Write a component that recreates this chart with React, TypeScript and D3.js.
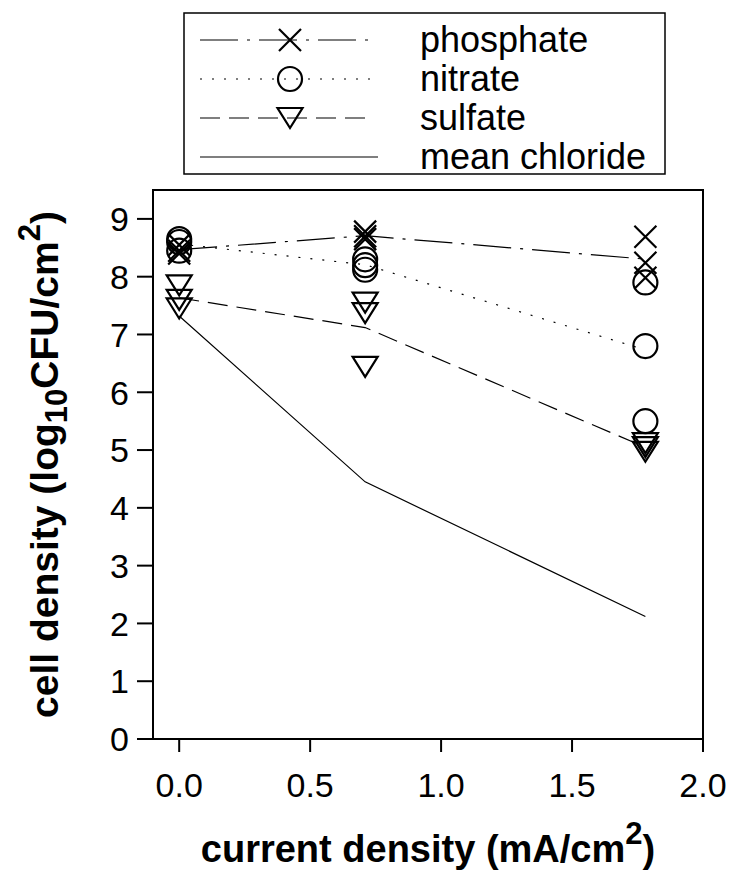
import React from "react";
import * as d3 from "d3";

// ---- data ----
const xLevels = [0, 0.71, 1.78];
const phosphate = [
  [8.55, 8.45, 8.4],
  [8.78, 8.7, 8.65],
  [8.69, 8.24, 7.98],
];
const nitrate = [
  [8.65, 8.6, 8.45],
  [8.3, 8.2, 8.12],
  [7.9, 6.8, 5.5],
];
const sulfate = [
  [7.85, 7.6, 7.45],
  [7.55, 7.37, 6.44],
  [5.12, 5.05, 4.97],
];
const meanChloride = [7.32, 4.45, 2.12];
const xTicks = [0, 0.5, 1.0, 1.5, 2.0];
const yTicks = [0, 1, 2, 3, 4, 5, 6, 7, 8, 9];
const legendLabels = ["phosphate", "nitrate", "sulfate", "mean chloride"];

const W = 738;
const H = 882;
const FONT = "Arial, 'Liberation Sans', Helvetica, sans-serif";

const x = d3.scaleLinear().domain([-0.1, 2.0]).range([153, 703]);
const y = d3.scaleLinear().domain([0, 9.5]).range([739, 190]);

type Shape = "x" | "o" | "v" | "none";

function Marker({ cx, cy, shape }: { cx: number; cy: number; shape: Shape }) {
  const sw = 2.2;
  if (shape === "x") {
    const s = 11;
    return (
      <path
        d={`M${cx - s},${cy - s}L${cx + s},${cy + s}M${cx - s},${cy + s}L${cx + s},${cy - s}`}
        stroke="#000"
        strokeWidth={sw}
        fill="none"
      />
    );
  }
  if (shape === "o") {
    return <circle cx={cx} cy={cy} r={12} stroke="#000" strokeWidth={sw} fill="none" />;
  }
  if (shape === "v") {
    const hw = 12.5;
    const hh = 10;
    return (
      <path
        d={`M${cx - hw},${cy - hh}L${cx + hw},${cy - hh}L${cx},${cy + hh}Z`}
        stroke="#000"
        strokeWidth={sw}
        fill="none"
        strokeLinejoin="miter"
      />
    );
  }
  return null;
}

const series = [
  { label: legendLabels[0], reps: phosphate, shape: "x" as Shape, dash: "38,9,3,9" },
  { label: legendLabels[1], reps: nitrate, shape: "o" as Shape, dash: "2,10" },
  { label: legendLabels[2], reps: sulfate, shape: "v" as Shape, dash: "20,9" },
];

export default function App() {
  const line = d3
    .line<[number, number]>()
    .x((d) => x(d[0]))
    .y((d) => y(d[1]));

  const meanLines = series.map((s) =>
    line(xLevels.map((xv, i) => [xv, d3.mean(s.reps[i]) as number]))
  );
  const chlorideLine = line(xLevels.map((xv, i) => [xv, meanChloride[i]]));

  const legendRows = [
    { label: legendLabels[0], shape: "x" as Shape, dash: "38,9,3,9" },
    { label: legendLabels[1], shape: "o" as Shape, dash: "2,10" },
    { label: legendLabels[2], shape: "v" as Shape, dash: "20,9" },
    { label: legendLabels[3], shape: "none" as Shape, dash: "none" },
  ];

  return (
    <svg
      width={W}
      height={H}
      style={{ position: "absolute", left: 0, top: 0, background: "#fff" }}
      fontFamily={FONT}
    >
      <rect x={0} y={0} width={W} height={H} fill="#fff" />

      {/* mean lines */}
      {meanLines.map((d, i) => (
        <path
          key={i}
          d={d || ""}
          fill="none"
          stroke="#000"
          strokeWidth={1.2}
          strokeDasharray={series[i].dash}
        />
      ))}
      <path d={chlorideLine || ""} fill="none" stroke="#000" strokeWidth={1.2} />

      {/* markers */}
      {series.map((s, si) =>
        s.reps.map((vals, i) =>
          vals.map((v, j) => (
            <Marker key={`${si}-${i}-${j}`} cx={x(xLevels[i])} cy={y(v)} shape={s.shape} />
          ))
        )
      )}

      {/* frame */}
      <rect x={x(-0.1)} y={y(9.5)} width={x(2.0) - x(-0.1)} height={y(0) - y(9.5)} fill="none" stroke="#000" strokeWidth={2} />

      {/* y ticks */}
      {yTicks.map((t) => (
        <g key={`y${t}`}>
          <line x1={137} x2={x(-0.1)} y1={y(t)} y2={y(t)} stroke="#000" strokeWidth={2} />
          <text x={129} y={y(t)} dy="0.36em" textAnchor="end" fontSize={34}>
            {t}
          </text>
        </g>
      ))}

      {/* x ticks */}
      {xTicks.map((t) => (
        <g key={`x${t}`}>
          <line x1={x(t)} x2={x(t)} y1={y(0)} y2={752} stroke="#000" strokeWidth={2} />
          <text x={x(t)} y={797} textAnchor="middle" fontSize={34}>
            {d3.format(".1f")(t)}
          </text>
        </g>
      ))}

      {/* x title */}
      <text x={(x(-0.1) + x(2.0)) / 2} y={862} textAnchor="middle" fontSize={38} fontWeight="bold">
        current density (mA/cm
        <tspan dy={-18} fontSize={31}>2</tspan>
        <tspan dy={18}>)</tspan>
      </text>

      {/* y title */}
      <text
        transform={`translate(58,${(y(0) + y(9.5)) / 2}) rotate(-90)`}
        textAnchor="middle"
        fontSize={39}
        fontWeight="bold"
      >
        cell density (log
        <tspan dy={9} fontSize={31}>10</tspan>
        <tspan dy={-9}>CFU/cm</tspan>
        <tspan dy={-18} fontSize={31}>2</tspan>
        <tspan dy={18}>)</tspan>
      </text>

      {/* legend */}
      <rect x={184} y={13} width={481} height={161} fill="#fff" stroke="#000" strokeWidth={1.5} />
      {legendRows.map((r, i) => {
        const cy = 40 + i * 39;
        return (
          <g key={r.label}>
            <line
              x1={200}
              x2={r.shape === "none" ? 378 : 370}
              y1={cy}
              y2={cy}
              stroke="#000"
              strokeWidth={1.2}
              strokeDasharray={r.dash}
            />
            <Marker cx={290} cy={cy} shape={r.shape} />
            <text x={420} y={cy + 12} fontSize={36}>
              {r.label}
            </text>
          </g>
        );
      })}
    </svg>
  );
}
